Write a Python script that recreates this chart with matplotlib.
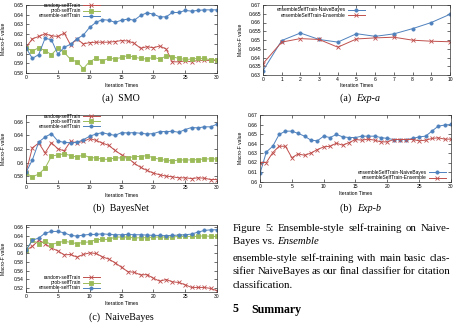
"""Ensemble-style self-training figure (page excerpt)"""

import matplotlib
matplotlib.use('Agg')
import matplotlib.pyplot as plt
from matplotlib.ticker import FuncFormatter

W, H = 456, 326

# ---- data -------------------------------------------------------------
iters30 = list(range(31))
iters10 = list(range(11))

smo_random = [0.6064, 0.6152, 0.6176, 0.6204, 0.6183, 0.6176, 0.6211, 0.6089,
              0.6150, 0.6100, 0.6113, 0.6117, 0.6117, 0.6117, 0.6124, 0.6134,
              0.6130, 0.6106, 0.6054, 0.6071, 0.6060, 0.6078, 0.6047, 0.5915,
              0.5915, 0.5925, 0.5915, 0.5930, 0.5930, 0.5930, 0.5930]
smo_prob = [0.6060, 0.6026, 0.6060, 0.6030, 0.5990, 0.6055, 0.6012, 0.5940,
            0.5915, 0.5845, 0.5918, 0.5950, 0.5925, 0.5950, 0.5945, 0.5960,
            0.5980, 0.5963, 0.5950, 0.5943, 0.5963, 0.5943, 0.5974, 0.5967,
            0.5950, 0.5940, 0.5943, 0.5950, 0.5950, 0.5936, 0.5936]
smo_ens = [0.6060, 0.5950, 0.5990, 0.6158, 0.6141, 0.5995, 0.6064, 0.6096,
           0.6152, 0.6190, 0.6270, 0.6322, 0.6350, 0.6343, 0.6322, 0.6343,
           0.6355, 0.6343, 0.6392, 0.6420, 0.6406, 0.6378, 0.6378, 0.6423,
           0.6423, 0.6444, 0.6437, 0.6444, 0.6450, 0.6450, 0.6450]

bn_random = [0.5856, 0.6218, 0.6287, 0.6143, 0.6292, 0.6203, 0.6173, 0.6312,
             0.6292, 0.6312, 0.6352, 0.6327, 0.6287, 0.6253, 0.6178, 0.6114,
             0.6069, 0.5990, 0.5930, 0.5885, 0.5846, 0.5821, 0.5801, 0.5791,
             0.5776, 0.5776, 0.5766, 0.5776, 0.5771, 0.5751, 0.5751]
bn_prob = [0.5846, 0.5791, 0.5831, 0.5920, 0.6094, 0.6114, 0.6129, 0.6104,
           0.6079, 0.6114, 0.6074, 0.6069, 0.6049, 0.6049, 0.6069, 0.6069,
           0.6069, 0.6089, 0.6089, 0.6104, 0.6069, 0.6049, 0.6034, 0.6024,
           0.6039, 0.6039, 0.6039, 0.6044, 0.6054, 0.6054, 0.6054]
bn_ens = [0.5856, 0.6039, 0.6302, 0.6377, 0.6426, 0.6317, 0.6297, 0.6292,
          0.6297, 0.6337, 0.6387, 0.6421, 0.6441, 0.6416, 0.6401, 0.6441,
          0.6436, 0.6441, 0.6431, 0.6421, 0.6426, 0.6456, 0.6456, 0.6461,
          0.6446, 0.6486, 0.6516, 0.6511, 0.6526, 0.6526, 0.6565]

nb_random = [0.6070, 0.6160, 0.6300, 0.6220, 0.6120, 0.6055, 0.5964, 0.5972,
             0.5911, 0.5972, 0.6010, 0.5995, 0.5919, 0.5866, 0.5783, 0.5677,
             0.5578, 0.5563, 0.5503, 0.5510, 0.5427, 0.5359, 0.5397, 0.5344,
             0.5329, 0.5276, 0.5215, 0.5215, 0.5215, 0.5192, 0.5139]
nb_prob = [0.6070, 0.6300, 0.6220, 0.6275, 0.6200, 0.6245, 0.6275, 0.6252,
           0.6220, 0.6252, 0.6260, 0.6313, 0.6320, 0.6320, 0.6373, 0.6373,
           0.6373, 0.6350, 0.6358, 0.6358, 0.6373, 0.6373, 0.6373, 0.6373,
           0.6388, 0.6388, 0.6388, 0.6388, 0.6403, 0.6388, 0.6388]
nb_ens = [0.6070, 0.6300, 0.6350, 0.6464, 0.6502, 0.6502, 0.6471, 0.6411,
          0.6396, 0.6418, 0.6433, 0.6433, 0.6449, 0.6433, 0.6426, 0.6426,
          0.6433, 0.6426, 0.6426, 0.6418, 0.6411, 0.6411, 0.6403, 0.6411,
          0.6418, 0.6426, 0.6441, 0.6487, 0.6524, 0.6540, 0.6540]

expa_nb = [0.6325, 0.6497, 0.6540, 0.6503, 0.6488, 0.6536, 0.6521, 0.6535,
           0.6565, 0.6600, 0.6647]
expa_ens = [0.6365, 0.6488, 0.6508, 0.6503, 0.6459, 0.6506, 0.6512, 0.6516,
            0.6499, 0.6493, 0.6490]

expb_nb = [0.6085, 0.6311, 0.6371, 0.6495, 0.6530, 0.6530, 0.6506, 0.6477,
           0.6435, 0.6428, 0.6477, 0.6463, 0.6495, 0.6470, 0.6463, 0.6463,
           0.6477, 0.6477, 0.6477, 0.6463, 0.6453, 0.6442, 0.6442, 0.6442,
           0.6453, 0.6470, 0.6477, 0.6530, 0.6583, 0.6594, 0.6601]
expb_ens = [0.6200, 0.6200, 0.6304, 0.6371, 0.6371, 0.6251, 0.6290, 0.6276,
            0.6300, 0.6336, 0.6364, 0.6371, 0.6403, 0.6382, 0.6410, 0.6442,
            0.6435, 0.6446, 0.6435, 0.6417, 0.6417, 0.6442, 0.6442, 0.6442,
            0.6442, 0.6428, 0.6435, 0.6453, 0.6460, 0.6446, 0.6446]

RED, GREEN, BLUE = '#c0504d', '#9bbb59', '#4f81bd'
SANS = 'Liberation Sans'
SERIF = 'Liberation Serif'
TICK_FS = 3.6


def fx(x):
    return x / W


def fy(y):
    return 1 - y / H


def make_axes(fig, l, t, r, b):
    ax = fig.add_axes([fx(l), fy(b), (r - l) / W, (b - t) / H])
    ax.tick_params(direction='in', length=2, width=0.4, labelsize=TICK_FS,
                   pad=1.5, top=True, right=True)
    for lab in ax.get_xticklabels() + ax.get_yticklabels():
        lab.set_family(SANS)
    for sp in ax.spines.values():
        sp.set_linewidth(0.5)
        sp.set_color('#333333')
    ax.set_xlabel('Iteration Times', fontsize=TICK_FS, family=SANS)
    ax.set_ylabel('Macro-F value', fontsize=TICK_FS, family=SANS)
    return ax


def line(ax, x, y, color, marker, label):
    ms = 2.3 if marker != 'x' else 2.4
    ax.plot(x, y, color=color, marker=marker, markersize=ms, lw=0.7,
            mew=0.6, label=label)


def legend(fig, ax, ur_x, ur_y):
    ax.legend(loc='upper right', bbox_to_anchor=(fx(ur_x), fy(ur_y)),
              bbox_transform=fig.transFigure, frameon=False, markerfirst=False,
              prop={'family': SANS, 'size': 3.5}, borderpad=0,
              labelspacing=0.05, handlelength=3.6, handletextpad=0.4,
              borderaxespad=0)


def gfmt(v, pos):
    return '%g' % round(v, 4)


def justify(fig, text, x0, x1, y, **kw):
    # spread the words of one line so it fills x0..x1 (pixels)
    renderer = fig.canvas.get_renderer()
    words = text.split(' ')
    arts, widths = [], []
    for w_ in words:
        t = fig.text(0, fy(y), w_, va='center', **kw)
        widths.append(t.get_window_extent(renderer).width)
        arts.append(t)
    gap = (x1 - x0 - sum(widths)) / (len(words) - 1)
    x = x0
    for t, wd in zip(arts, widths):
        t.set_x(fx(x))
        x += wd + gap


fig = plt.figure(figsize=(W / 100, H / 100), dpi=100)

# ---- left column: SMO / BayesNet / NaiveBayes ------------------------
left_panels = [
    ((26, 5, 217, 73), smo_random, smo_prob, smo_ens, (0.58, 0.65),
     [0.58 + 0.01 * i for i in range(8)], (100, 3), '(a)  SMO', 98),
    ((26, 115, 217, 183), bn_random, bn_prob, bn_ens, (0.57, 0.67),
     [0.58 + 0.02 * i for i in range(5)], (100, 113.5), '(b)  BayesNet', 208.5),
    ((26, 225, 217, 292), nb_random, nb_prob, nb_ens, (0.511, 0.665),
     [0.52 + 0.02 * i for i in range(8)], (100, 275), '(c)  NaiveBayes', 317),
]
for rect, r_, p_, e_, ylim, yt, lg, cap, cap_y in left_panels:
    ax = make_axes(fig, *rect)
    line(ax, iters30, r_, RED, 'x', 'random-selfTrain')
    line(ax, iters30, p_, GREEN, 's', 'prob-selfTrain')
    line(ax, iters30, e_, BLUE, 'o', 'ensemble-selfTrain')
    ax.set_xlim(0, 30)
    ax.set_xticks(range(0, 31, 5))
    ax.set_ylim(*ylim)
    ax.set_yticks(yt)
    ax.yaxis.set_major_formatter(FuncFormatter(gfmt))
    ax.yaxis.set_label_coords(-0.105, 0.5)
    ax.xaxis.set_label_coords(0.5, -0.14)
    legend(fig, ax, *lg)
    fig.text(fx(121), fy(cap_y), cap, family=SERIF, fontsize=7.2,
             ha='center', va='center')

# ---- right column: Exp-a / Exp-b -------------------------------------
ax = make_axes(fig, 263, 5, 450, 75)
line(ax, iters10, expa_nb, BLUE, 'o', 'ensembleSelfTrain-NaiveBayes')
line(ax, iters10, expa_ens, RED, 'x', 'ensembleSelfTrain-Ensemble')
ax.set_xlim(0, 10)
ax.set_xticks(iters10)
ax.set_ylim(0.63, 0.67)
ax.set_yticks([0.63 + 0.005 * i for i in range(9)])
ax.yaxis.set_major_formatter(FuncFormatter(gfmt))
ax.yaxis.set_label_coords(-0.105, 0.5)
ax.xaxis.set_label_coords(0.5, -0.12)
legend(fig, ax, 365, 7.5)

ax = make_axes(fig, 260, 115, 451, 181.5)
line(ax, iters30, expb_nb, BLUE, 'o', 'ensembleSelfTrain-NaiveBayes')
line(ax, iters30, expb_ens, RED, 'x', 'ensembleSelfTrain-Ensemble')
ax.set_xlim(0, 30)
ax.set_xticks(range(0, 31, 5))
ax.set_ylim(0.60, 0.67)
ax.set_yticks([0.60 + 0.01 * i for i in range(8)])
ax.yaxis.set_major_formatter(FuncFormatter(gfmt))
ax.yaxis.set_label_coords(-0.09, 0.5)
ax.xaxis.set_label_coords(0.5, -0.14)
legend(fig, ax, 446, 170)

for lab, name, cx, cy in [('(a)  ', 'Exp-a', 357, 98), ('(b)  ', 'Exp-b', 357, 208.5)]:
    t = fig.text(fx(cx - 17), fy(cy), lab, family=SERIF, fontsize=7.2,
                 ha='left', va='center')
    plt.annotate(name, xy=(1, 0), xycoords=t, ha='left', va='bottom',
                 family=SERIF, fontsize=7.2, style='italic')

# ---- page text -------------------------------------------------------
TX, TX1 = 233, 450
BODY = 7.75
justify(fig, 'Figure 5: Ensemble-style self-training on Naive-', TX, TX1,
        228.5, family=SERIF, fontsize=BODY)
t = fig.text(fx(TX), fy(242), 'Bayes vs. ', family=SERIF, fontsize=BODY,
             va='center')
plt.annotate('Ensemble', xy=(1, 0), xycoords=t, ha='left', va='bottom',
             family=SERIF, fontsize=BODY, style='italic')
body = ['ensemble-style self-training with main basic clas-',
        'sifier NaiveBayes as our final classifier for citation']
for i, s in enumerate(body):
    justify(fig, s, TX, TX1, 258.5 + 13.5 * i, family=SERIF, fontsize=BODY)
fig.text(fx(TX), fy(285.5), 'classification.', family=SERIF, fontsize=BODY,
         va='center')
fig.text(fx(TX), fy(309.5), '5', family=SERIF, fontsize=8.6,
         weight='bold', va='center')
fig.text(fx(251), fy(309.5), 'Summary', family=SERIF, fontsize=8.6,
         weight='bold', va='center')

fig.savefig('out.png', dpi=100)
